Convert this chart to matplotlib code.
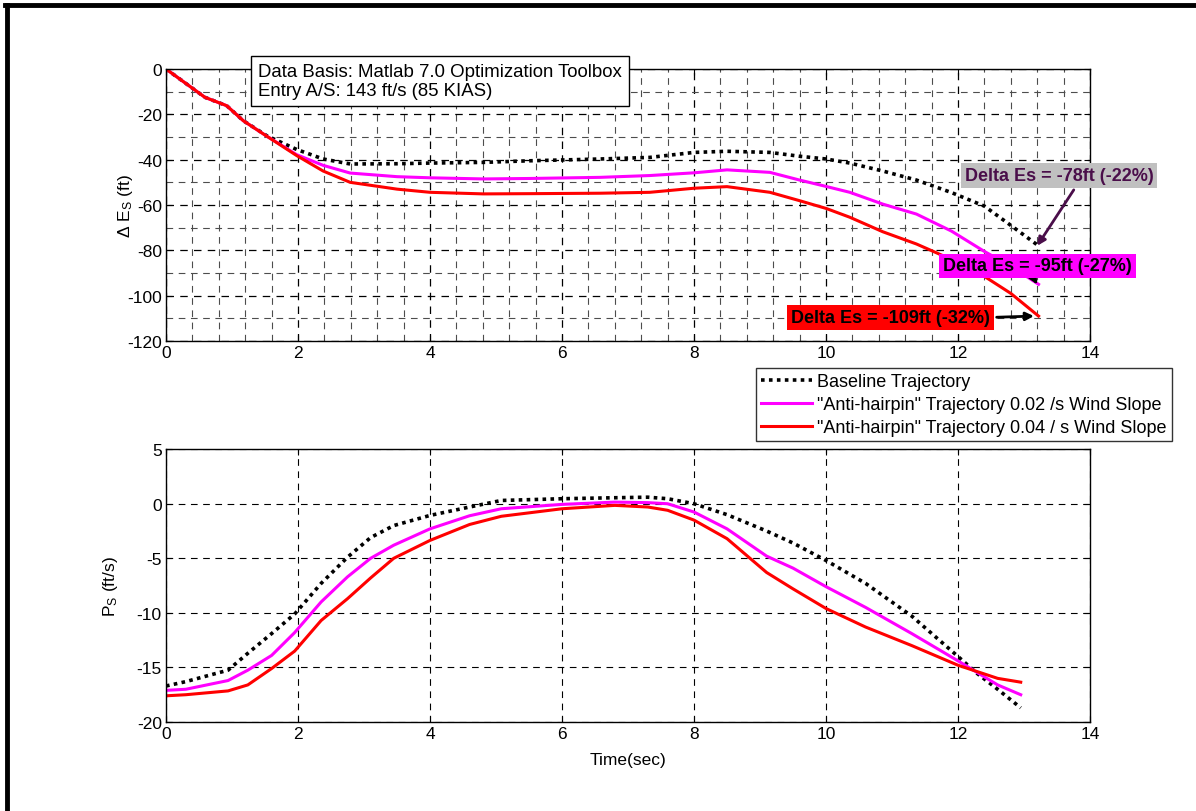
import matplotlib
matplotlib.use("Agg")
import matplotlib.pyplot as plt
from matplotlib.lines import Line2D
from matplotlib.ticker import MultipleLocator

plt.rcParams["font.family"] = ["Liberation Sans", "DejaVu Sans"]
plt.rcParams["mathtext.fontset"] = "custom"
plt.rcParams["mathtext.rm"] = "Liberation Sans"
plt.rcParams["mathtext.it"] = "Liberation Sans"
plt.rcParams["axes.unicode_minus"] = False

# --- energy state change (top) ---
t_top = [0, 0.59, 0.92, 1.17, 1.53, 1.98, 2.38, 2.79, 3.5, 4.0, 4.81, 5.5,
         6.58, 7.33, 8.0, 8.5, 9.15, 9.6, 10.0, 10.36, 10.86, 11.37, 11.9,
         12.4, 12.8, 13.22]
es_base = [0, -12.5, -16.2, -22.8, -29.5, -35.5, -39.7, -41.9, -41.8, -41.5,
           -41.2, -40.5, -39.7, -39.0, -36.8, -36.3, -36.8, -38.5, -39.7,
           -41.5, -45.0, -49.0, -54.5, -60.5, -69.0, -78.0]
es_002 = [0, -12.5, -16.2, -22.8, -29.7, -37.8, -42.5, -45.9, -47.5, -48.0,
          -48.5, -48.3, -47.8, -47.0, -45.8, -44.5, -45.6, -49.0, -51.8,
          -54.4, -59.6, -64.0, -71.5, -80.5, -87.0, -95.0]
es_004 = [0, -12.5, -16.2, -22.8, -29.7, -38.2, -45.0, -50.0, -53.0, -54.4,
          -55.1, -55.0, -54.8, -54.4, -52.6, -51.9, -54.4, -58.1, -61.5,
          -65.4, -71.8, -77.2, -84.0, -91.5, -99.0, -109.0]

# --- specific excess power (bottom) ---
t_bot = [0, 0.3, 0.94, 1.24, 1.6, 1.95, 2.35, 2.75, 3.1, 3.45, 4.0, 4.6,
         5.08, 6.0, 6.8, 7.3, 7.6, 8.0, 8.5, 9.1, 9.5, 10.0, 10.6, 11.3,
         12.0, 12.3, 12.6, 12.95]
ps_base = [-16.7, -16.3, -15.25, -13.7, -11.9, -10.1, -7.3, -4.9, -3.1, -2.0,
           -1.07, -0.3, 0.3, 0.46, 0.55, 0.6, 0.46, 0.0, -1.0, -2.5, -3.6,
           -5.2, -7.3, -10.3, -14.0, -15.6, -17.0, -18.7]
ps_002 = [-17.1, -17.0, -16.2, -15.25, -13.9, -11.8, -9.0, -6.7, -5.0, -3.8,
          -2.3, -1.1, -0.46, -0.06, 0.15, 0.1, 0.0, -0.76, -2.3, -4.8, -5.9,
          -7.6, -9.5, -11.9, -14.4, -15.5, -16.6, -17.5]
ps_004 = [-17.6, -17.5, -17.15, -16.6, -15.1, -13.5, -10.7, -8.7, -6.8, -5.0,
          -3.36, -1.9, -1.15, -0.46, -0.15, -0.3, -0.6, -1.5, -3.2, -6.3,
          -7.8, -9.6, -11.3, -13.0, -14.8, -15.4, -16.0, -16.35]

labels = ["Baseline Trajectory",
          '"Anti-hairpin" Trajectory 0.02 /s Wind Slope',
          '"Anti-hairpin" Trajectory 0.04 / s Wind Slope']
end_vals = [-78, -95, -109]
end_pct = [-22, -27, -32]

fig = plt.figure(figsize=(11.96, 8.12), dpi=100)
ax1 = fig.add_axes([0.1388, 0.5788, 0.7726, 0.335])
ax2 = fig.add_axes([0.1388, 0.1096, 0.7726, 0.336])

styles = [dict(color="black", ls=(0, (1, 1.2)), lw=2.6),
          dict(color="#ff00ff", ls="-", lw=2.2),
          dict(color="#ff0000", ls="-", lw=2.2)]

for y, st, lab in zip([es_base, es_002, es_004], styles, labels):
    ax1.plot(t_top, y, label=lab, **st)
for y, st in zip([ps_base, ps_002, ps_004], styles):
    ax2.plot(t_bot, y, **st)

for ax in (ax1, ax2):
    ax.set_xlim(0, 14)
    ax.xaxis.set_major_locator(MultipleLocator(2))
    ax.tick_params(direction="in", top=True, right=True, labelsize=12.5,
                   length=4, width=0.8, pad=3)
    ax.set_axisbelow(True)
    for s in ax.spines.values():
        s.set_linewidth(1.0)

ax1.set_ylim(-120, 0)
ax1.yaxis.set_major_locator(MultipleLocator(20))
ax1.xaxis.set_minor_locator(MultipleLocator(0.4))
ax1.yaxis.set_minor_locator(MultipleLocator(10))
ax1.tick_params(which="minor", length=0)
ax1.grid(True, which="major", color="black", ls=(0, (6, 5)), lw=0.9)
ax1.grid(True, which="minor", color="0.3", ls=(0, (6, 5)), lw=0.8)

ax2.set_ylim(-20, 5)
ax2.yaxis.set_major_locator(MultipleLocator(5))
ax2.grid(True, color="black", ls=(0, (6, 5)), lw=0.8)

ax1.set_ylabel(r"$\Delta$ E$_\mathregular{S}$ (ft)", fontsize=12.5)
ax1.yaxis.set_label_coords(-0.034, 0.5)
ax2.set_ylabel(r"P$_\mathregular{S}$ (ft/s)", fontsize=12.5)
ax2.yaxis.set_label_coords(-0.05, 0.5)
ax2.set_xlabel("Time(sec)", fontsize=12.5)
ax2.xaxis.set_label_coords(0.5, -0.11)

ax1.text(1.4, 2.6, "Data Basis: Matlab 7.0 Optimization Toolbox\n"
         "Entry A/S: 143 ft/s (85 KIAS)", fontsize=13.4, va="top", ha="left",
         linespacing=1.15,
         bbox=dict(boxstyle="square,pad=0.38", fc="white", ec="black", lw=1))

# end-state annotations
ann_x = [13.2, 13.2, 13.15]
ann = [
    dict(xytext=(12.1, -46.8), fc="#c0c0c0", tc="#4a0e4a", ac="#4a0e4a",
         rel=(0.6, 0)),
    dict(xytext=(11.77, -86.9), fc="#ff00ff", tc="black", ac="black",
         rel=(0.47, 0)),
    dict(xytext=(9.47, -109.6), fc="#ff0000", tc="black", ac="black",
         rel=(1, 0.5)),
]
for x, v, p, a in zip(ann_x, end_vals, end_pct, ann):
    ax1.annotate(f"Delta Es = {v}ft ({p}%)", xy=(x, v), xytext=a["xytext"],
                 fontsize=13, fontweight="bold", color=a["tc"], va="center",
                 ha="left", annotation_clip=False,
                 bbox=dict(boxstyle="square,pad=0.22", fc=a["fc"], ec="none"),
                 arrowprops=dict(arrowstyle="-|>", color=a["ac"], lw=2,
                                 mutation_scale=12, shrinkA=2, shrinkB=0,
                                 relpos=a["rel"]))

leg = fig.legend(*ax1.get_legend_handles_labels(), loc="upper right",
                 bbox_to_anchor=(1172 / 1196, 1 - 369 / 812), fontsize=13,
                 frameon=True, fancybox=False, handlelength=2.8,
                 borderpad=0.3, labelspacing=0.32, handletextpad=0.3,
                 borderaxespad=0)
leg.get_frame().set_edgecolor("black")
leg.get_frame().set_linewidth(1.0)

# outer frame (left and top edges)
fig.add_artist(Line2D([7 / 1196, 7 / 1196], [0, 1 - 6 / 812],
                      transform=fig.transFigure, color="black", lw=3.5))
fig.add_artist(Line2D([5 / 1196, 1], [1 - 6 / 812, 1 - 6 / 812],
                      transform=fig.transFigure, color="black", lw=3.5))

fig.savefig("out.png", dpi=100)
